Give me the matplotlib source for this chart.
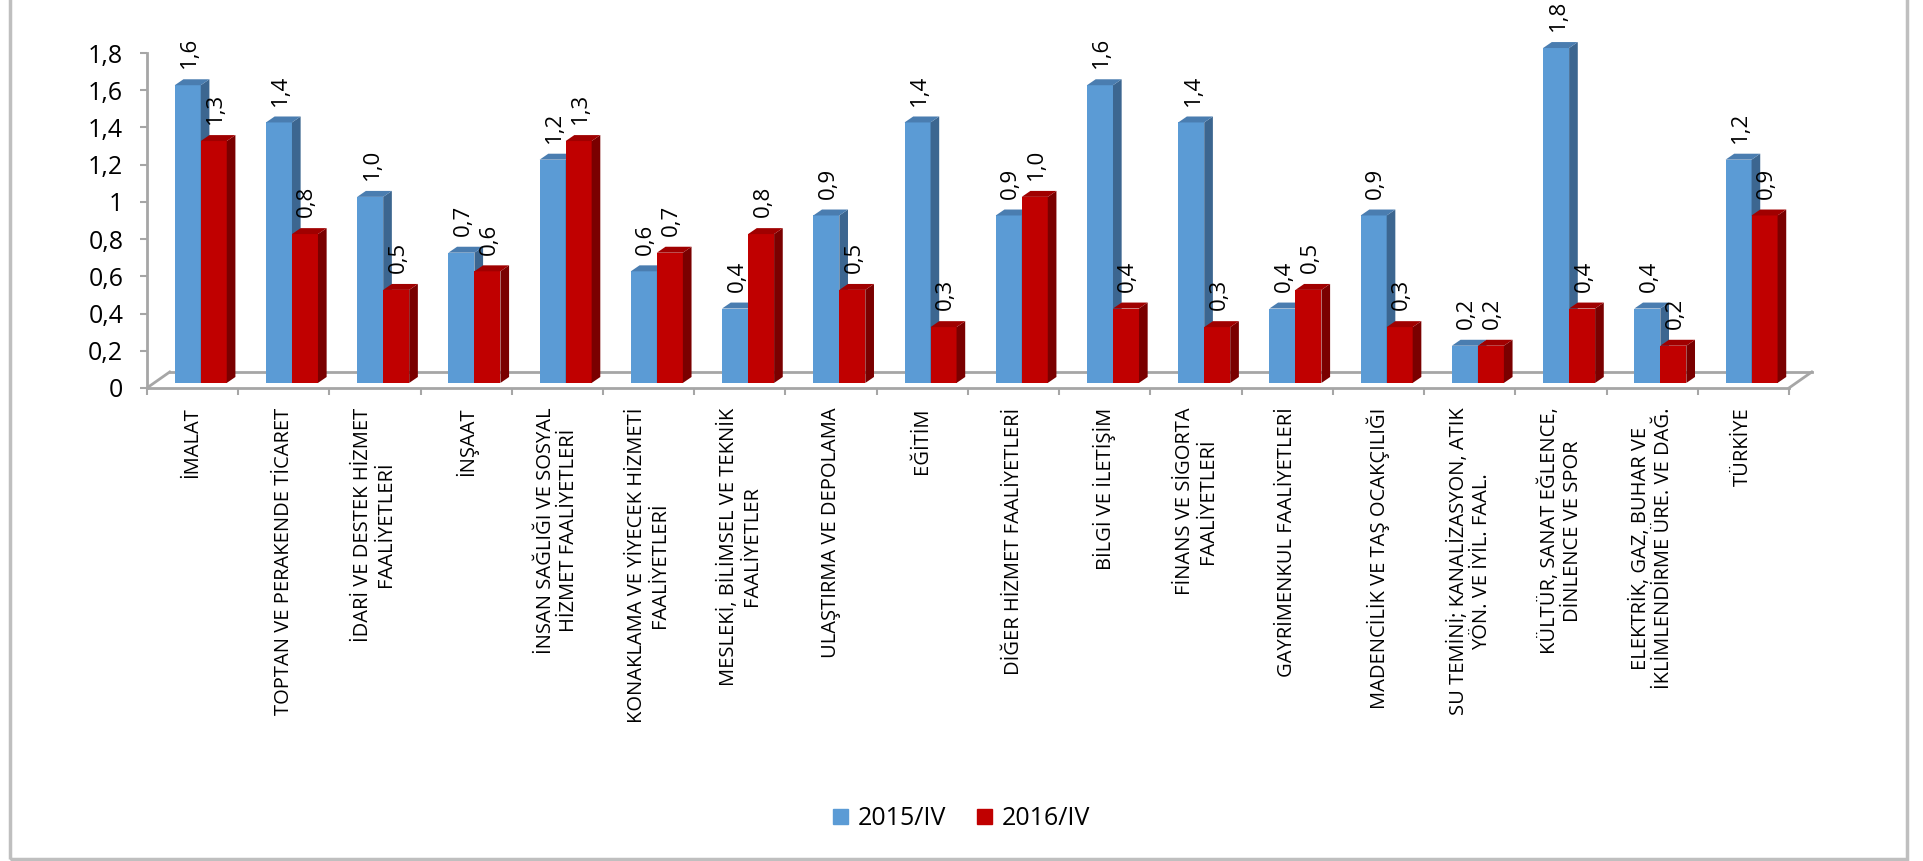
import numpy as np
import matplotlib.pyplot as plt
from matplotlib.patches import Polygon, Patch, Rectangle

plt.rcParams['font.family'] = ['Open Sans', 'DejaVu Sans']

kategoriler = [
    "İMALAT",
    "TOPTAN VE PERAKENDE TİCARET",
    "İDARİ VE DESTEK HİZMET\nFAALİYETLERİ",
    "İNŞAAT",
    "İNSAN SAĞLIĞI VE SOSYAL\nHİZMET FAALİYETLERİ",
    "KONAKLAMA VE YİYECEK HİZMETİ\nFAALİYETLERİ",
    "MESLEKİ, BİLİMSEL VE TEKNİK\nFAALİYETLER",
    "ULAŞTIRMA VE DEPOLAMA",
    "EĞİTİM",
    "DİĞER HİZMET FAALİYETLERİ",
    "BİLGİ VE İLETİŞİM",
    "FİNANS VE SİGORTA\nFAALİYETLERİ",
    "GAYRİMENKUL FAALİYETLERİ",
    "MADENCİLİK VE TAŞ OCAKÇILIĞI",
    "SU TEMİNİ; KANALİZASYON, ATIK\nYÖN. VE İYİL. FAAL.",
    "KÜLTÜR, SANAT EĞLENCE,\nDİNLENCE VE SPOR",
    "ELEKTRİK, GAZ, BUHAR VE\nİKLİMLENDİRME ÜRE. VE DAĞ.",
    "TÜRKİYE",
]
seri_2015 = [1.6, 1.4, 1.0, 0.7, 1.2, 0.6, 0.4, 0.9, 1.4, 0.9, 1.6, 1.4, 0.4, 0.9, 0.2, 1.8, 0.4, 1.2]
seri_2016 = [1.3, 0.8, 0.5, 0.6, 1.3, 0.7, 0.8, 0.5, 0.3, 1.0, 0.4, 0.3, 0.5, 0.3, 0.2, 0.4, 0.2, 0.9]
seri_adlari = ["2015/IV", "2016/IV"]
y_ticks = [0, 0.2, 0.4, 0.6, 0.8, 1.0, 1.2, 1.4, 1.6, 1.8]
y_etiketleri = ["0", "0,2", "0,4", "0,6", "0,8", "1", "1,2", "1,4", "1,6", "1,8"]

# renkler: on yuz, yan yuz, ust yuz
renk_mavi = ("#5B9BD5", "#3C6690", "#4A7DB0")
renk_kirmizi = ("#C00000", "#7A0000", "#A00000")
gri = "#A6A6A6"

fig = plt.figure(figsize=(19.23, 8.61), dpi=100)
ax = fig.add_axes([0.0764, 0.5494, 0.8539, 0.389])

n = len(kategoriler)
w = 0.285      # on yuz genisligi
dx = 0.095     # derinlik (x)
dy = 0.032     # derinlik (y)
b0 = 0.027     # cubuk tabani
zx, zy = 0.25, 0.086   # zemin derinligi


def kutu(x0, v, renk, z):
    ax.bar(x0, v, width=w, bottom=b0, align='edge', color=renk[0], zorder=z,
           linewidth=0, clip_on=False)
    yan = [(x0 + w, b0), (x0 + w + dx, b0 + dy), (x0 + w + dx, b0 + v + dy), (x0 + w, b0 + v)]
    ust = [(x0, b0 + v), (x0 + dx, b0 + v + dy), (x0 + w + dx, b0 + v + dy), (x0 + w, b0 + v)]
    ax.add_patch(Polygon(yan, closed=True, color=renk[1], zorder=z, lw=0, clip_on=False))
    ax.add_patch(Polygon(ust, closed=True, color=renk[2], zorder=z, lw=0, clip_on=False))


def etiket(x, v):
    ax.text(x, v + b0 + 0.09, f"{v:.1f}".replace('.', ','), rotation=90,
            ha='center', va='bottom', fontsize=16,
            family=['Liberation Sans Narrow', 'Open Sans'], zorder=6)


for i in range(n):
    xb = i + 0.305
    xr = xb + w
    kutu(xb, seri_2015[i], renk_mavi, 3)
    kutu(xr, seri_2016[i], renk_kirmizi, 4)
    etiket(xb + w / 2 + 0.02, seri_2015[i])
    etiket(xr + w / 2 + 0.02, seri_2016[i])

# zemin
ax.plot([zx, n + zx], [zy, zy], color=gri, lw=2, zorder=1, clip_on=False)
ax.plot([0, zx], [0, zy], color=gri, lw=2, zorder=1, clip_on=False)
ax.plot([n, n + zx], [0, zy], color=gri, lw=2, zorder=1, clip_on=False)

ax.set_xlim(0, n)
ax.set_ylim(0, 1.8)
ax.set_yticks(y_ticks, y_etiketleri, fontsize=18)
ax.set_xticks(np.arange(n + 1), [""] * (n + 1))
ax.set_xticks(np.arange(n) + 0.5, kategoriler, minor=True, rotation=90, fontsize=14.5)
for lab in ax.get_xticklabels(minor=True):
    lab.set_multialignment('center')
ax.tick_params(axis='x', which='minor', length=0, pad=14)
ax.tick_params(axis='x', which='major', length=5, color=gri, width=1.5)
ax.tick_params(axis='y', length=5, color=gri, width=1.5, pad=12)
for s in ['top', 'right']:
    ax.spines[s].set_visible(False)
for s in ['left', 'bottom']:
    ax.spines[s].set_color(gri)
    ax.spines[s].set_linewidth(2)
ax.patch.set_alpha(0)

handles = [Patch(color=renk_mavi[0]), Patch(color=renk_kirmizi[0])]
fig.legend(handles, seri_adlari, loc='center', bbox_to_anchor=(0.5, 0.049), ncol=2,
           frameon=False, fontsize=18, handlelength=0.6, handleheight=0.6,
           columnspacing=1.2, handletextpad=0.4)

fig.add_artist(Rectangle((0.0052, 0.0023), 0.9865, 1.2, transform=fig.transFigure,
                         fill=False, edgecolor="#BFBFBF", lw=2.5, clip_on=False))

fig.savefig("out.png", dpi=100)
